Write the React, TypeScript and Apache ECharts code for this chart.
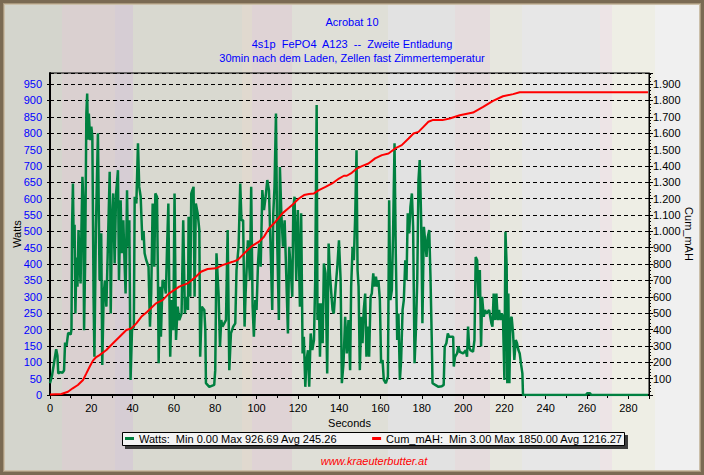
import React, { useEffect, useRef } from "react";
import * as echarts from "echarts";

const titleMain = "Acrobat 10";
const titleSub = [
  "4s1p  FePO4  A123  --  Zweite Entladung",
  "30min nach dem Laden, Zellen fast Zimmertemperatur",
];
const footerText = "www.kraeuterbutter.at";
const seriesNames = ["Watts", "Cum_mAH"];
const axisNames = ["Seconds", "Watts", "Cum_mAH"];
const wattsStats = [0.0, 926.69, 245.26];
const mahStats = [3.0, 1850.0, 1216.27];
const xRange = [0, 290, 20];
const wattsRange = [0, 984, 50];
const mahRange = [0, 1968, 100];

// [seconds, watts]
const watts: [number, number][] = [
  [0, 36], [1, 60], [2, 100], [3, 140], [3.6, 120], [4, 66], [5, 70], [6, 68], [6.8, 75], [7.3, 160],
  [8, 150], [8.8, 190], [10, 185], [10.4, 200], [10.7, 525], [11.1, 646], [11.5, 453], [11.9, 520],
  [12.3, 249], [12.8, 420], [13.3, 331], [13.8, 504], [14.3, 412], [14.8, 341], [15.2, 500], [15.7, 667],
  [16.1, 600], [16.5, 198], [17, 400], [17.6, 860], [18, 921], [18.4, 780], [18.8, 860], [19.2, 809],
  [19.6, 779], [20, 820], [20.5, 790], [21.1, 300], [21.5, 117], [22.2, 500], [23.2, 800], [24, 351],
  [24.8, 494], [25.3, 92], [26, 310], [26.6, 350], [27.3, 270], [28.2, 500], [28.9, 682], [29.4, 249],
  [30, 534], [30.6, 616], [31.3, 402], [32, 616], [32.9, 687], [33.4, 351], [34.2, 595], [34.8, 433],
  [35.5, 534], [36.1, 402], [36.6, 310], [37.3, 626], [37.7, 453], [38.4, 534], [39, 46], [39.7, 198],
  [40.6, 209], [41, 606], [41.8, 585], [42.6, 769], [43.2, 636], [43.9, 606], [44.7, 473], [45.3, 500],
  [45.8, 433], [46.6, 412], [47.7, 392], [48.4, 209], [49, 310], [49.7, 585], [50.5, 392], [51, 616],
  [51.8, 606], [52.3, 331], [52.6, 97], [53.2, 331], [53.7, 178], [54.5, 351], [55.3, 341], [56.1, 310],
  [56.6, 433], [57.3, 585], [57.7, 351], [58.2, 117], [58.9, 290], [59.7, 198], [60.3, 616], [61, 168],
  [61.8, 270], [62.6, 229], [63.7, 249], [64.5, 534], [65.3, 249], [66, 300], [66.8, 260], [67.1, 545],
  [67.9, 300], [68.4, 616], [69.5, 636], [70, 300], [70.6, 585], [71.5, 555], [72.3, 504], [72.7, 117],
  [73.5, 270], [74.7, 260], [75.2, 198], [75.5, 36], [77.1, 25], [79.5, 31], [80, 76], [80.6, 433],
  [81.6, 310], [82.3, 148], [82.9, 229], [83.5, 209], [85.2, 229], [86, 504], [86.8, 76], [87.6, 188],
  [88.7, 209], [89.7, 219], [90.3, 382], [91.3, 453], [92.1, 646], [92.7, 534], [93.5, 534], [94.2, 209],
  [94.7, 310], [95.8, 473], [96.8, 351], [97.4, 636], [98.1, 270], [98.7, 178], [99.4, 290], [100, 260],
  [100.7, 402], [101.3, 463], [102, 392], [102.8, 626], [103.6, 565], [104.4, 606], [105.2, 657],
  [106, 626], [106.8, 453], [107.6, 260], [108.1, 555], [108.7, 636], [109.4, 860], [110, 473],
  [110.8, 229], [111.3, 697], [112, 555], [112.8, 453], [113.6, 534], [114.5, 341], [115.2, 188],
  [115.8, 453], [116.5, 392], [117.3, 300], [117.8, 575], [118.4, 606], [119.2, 351], [120, 565],
  [121, 270], [121.6, 555], [122.3, 127], [122.9, 178], [123.6, 25], [124.2, 107], [124.9, 137],
  [125.5, 25], [126.2, 188], [127, 137], [127.8, 168], [128.4, 351], [129.1, 886], [129.5, 229],
  [130.2, 280], [130.7, 117], [131.3, 280], [132, 158], [132.6, 402], [133.4, 372], [134.2, 66],
  [134.9, 463], [135.5, 372], [136.2, 310], [136.8, 260], [137.4, 249], [138.3, 331], [139.1, 392],
  [139.9, 473], [140.7, 351], [141.3, 36], [142.1, 97], [142.9, 239], [143.7, 127], [144.5, 229],
  [145.3, 76], [145.8, 331], [146.5, 453], [147.1, 412], [147.8, 555], [148.4, 748], [148.9, 382],
  [149.4, 331], [150, 76], [150.7, 239], [151.3, 158], [151.9, 260], [152.6, 310], [153.2, 117],
  [153.9, 209], [154.5, 117], [155.2, 300], [155.8, 310], [156.5, 372], [157.1, 331], [157.8, 362],
  [158.4, 331], [159, 351], [159.7, 290], [160.3, 97], [161, 107], [161.6, 46], [162.6, 36], [163.6, 56],
  [164.2, 595], [164.8, 290], [165.5, 321], [166.1, 494], [166.8, 769], [167.4, 433], [168.1, 168],
  [168.7, 249], [169.4, 46], [170, 107], [170.7, 260], [171.3, 290], [172, 412], [172.6, 351],
  [173.2, 555], [173.9, 494], [174.5, 575], [175.2, 616], [175.8, 514], [176.5, 97], [177.1, 188],
  [177.8, 351], [178.4, 657], [179, 718], [179.7, 534], [180.3, 219], [181, 514], [181.6, 473],
  [182.3, 422], [182.9, 483], [183.6, 504], [184.2, 362], [184.8, 178], [185.2, 36], [186.5, 31],
  [188.1, 25], [189.7, 27], [190.6, 31], [191.1, 148], [191.9, 158], [192.6, 188], [193.2, 178],
  [194.5, 178], [195.2, 178], [195.5, 87], [196.1, 117], [197.1, 127], [197.7, 148], [198.4, 132],
  [200, 127], [201.3, 137], [201.9, 117], [202.4, 209], [202.9, 148], [203.5, 137], [204.8, 132],
  [205.5, 168], [206.1, 422], [206.8, 412], [207.4, 300], [208.1, 382], [208.7, 148], [209.2, 300],
  [210, 239], [210.6, 260], [211.3, 249], [212.6, 260], [213.7, 219], [214.2, 209], [214.8, 310],
  [215.5, 229], [216.1, 310], [216.8, 229], [217.4, 260], [218.1, 229], [218.7, 249], [219.3, 239],
  [220, 46], [220.5, 499], [221.1, 392], [221.4, 36], [221.9, 310], [222.4, 36], [222.9, 229],
  [223.5, 239], [224.2, 188], [224.8, 107], [225.5, 168], [226.1, 158], [226.8, 137], [227.4, 127],
  [228.1, 92], [228.7, 66], [229, 0], [259.5, 0], [260, 5], [261.5, 5], [262, 0], [289.5, 0],
];

// [seconds, cumulative mAh]
const cumMah: [number, number][] = [
  [0, 3], [5.5, 6], [8.7, 20], [11, 41], [13.5, 61], [16, 92], [17.6, 132], [19.2, 173], [20.8, 210],
  [22.4, 232], [24, 244], [27.3, 275], [30.5, 316], [33.7, 356], [37, 397], [39.4, 407], [41.8, 438],
  [44.2, 478], [47.1, 509], [51.3, 560], [54.5, 580], [57.7, 621], [62.6, 662], [66.6, 682], [70.6, 723],
  [73.1, 753], [76.3, 770], [80.3, 774], [83.5, 794], [88.4, 814], [90.8, 825], [93.2, 855], [94.8, 875],
  [97.9, 912], [101.2, 937], [103.6, 967], [106, 1018], [109.2, 1059], [112.5, 1110], [115.7, 1144],
  [118.1, 1171], [120.5, 1201], [123, 1222], [125.4, 1228], [127.8, 1232], [130.2, 1252], [133.4, 1272],
  [136.6, 1293], [139.9, 1323], [142.3, 1340], [143.7, 1340], [146.1, 1358], [148.6, 1384], [151, 1399],
  [154.2, 1415], [157.4, 1446], [160.7, 1466], [163.9, 1476], [167.1, 1507], [170.3, 1527], [173.6, 1568],
  [176, 1598], [178.4, 1608], [180.8, 1639], [183.2, 1670], [185.2, 1680], [190, 1680], [193.5, 1690],
  [198.4, 1710], [204.8, 1726], [209.7, 1761], [214.5, 1798], [219.3, 1826], [224.2, 1839], [227.4, 1850],
  [289.5, 1850],
];

const FONT = "'Liberation Sans', Arial, Helvetica, sans-serif";

const fmtThousands = (v: number) => {
  if (v >= 1000) {
    const k = Math.floor(v / 1000);
    return k + "." + String(v % 1000).padStart(3, "0");
  }
  return String(v);
};

const legendLabel = (name: string) => {
  const s = name === seriesNames[0] ? wattsStats : mahStats;
  return `${name}:  Min ${s[0].toFixed(2)} Max ${s[1].toFixed(2)} Avg ${s[2].toFixed(2)}`;
};

const stripes =
  "linear-gradient(to right," +
  "#d4d5cd 0px,#d4d5cd 62px,#dad0d0 62px,#dad0d0 115px,#d6cdd4 115px,#d6cdd4 133px," +
  "#d9d9d0 133px,#d9d9d0 242px,#e0d9cf 242px,#e0d9cf 252px,#dfd3d5 252px,#dfd3d5 292px," +
  "#dfdfd7 292px,#dfdfd7 388px,#e2e2e2 388px,#e2e2e2 455px,#e5dcdd 455px,#e5dcdd 490px," +
  "#e7e7df 490px,#e7e7df 522px,#e7e7e7 522px,#e7e7e7 600px,#ede4e6 600px,#ede4e6 612px," +
  "#eeeee5 612px,#eeeee5 655px,#f0f0f0 655px,#f0f0f0 704px)";

const titleStyle = { fontSize: 11, fontWeight: "normal", color: "#0000ff", fontFamily: FONT };

export default function App() {
  const ref = useRef<HTMLDivElement>(null);

  useEffect(() => {
    document.body.style.margin = "0";
    if (!ref.current) return;
    const chart = echarts.init(ref.current, null, { renderer: "svg" });
    const option: any = {
      animation: false,
      backgroundColor: "transparent",
      textStyle: { fontFamily: FONT },
      title: [
        { text: titleMain, left: "center", top: 16, padding: 0, textStyle: titleStyle },
        { text: titleSub[0], left: "center", top: 38, padding: 0, textStyle: titleStyle },
        { text: titleSub[1], left: "center", top: 52, padding: 0, textStyle: titleStyle },
      ],
      grid: {
        left: 50,
        right: 55,
        top: 73,
        bottom: 80,
        containLabel: false,
        outerBoundsMode: "none",
        show: true,
        borderColor: "#000",
        borderWidth: 1,
        backgroundColor: "transparent",
      },
      legend: {
        data: seriesNames,
        left: 125,
        top: 433,
        padding: 0,
        itemGap: 35,
        itemWidth: 9,
        itemHeight: 3,
        icon: "rect",
        formatter: legendLabel,
        textStyle: { fontSize: 11, color: "#000", fontFamily: FONT },
      },
      xAxis: {
        type: "value",
        min: xRange[0],
        max: xRange[1],
        interval: xRange[2],
        name: axisNames[0],
        nameLocation: "middle",
        nameGap: 22,
        nameMoveOverlap: false,
        nameTextStyle: { fontSize: 11, color: "#000", fontFamily: FONT },
        axisLine: { show: true, lineStyle: { color: "#000", width: 2 } },
        axisTick: { show: true, length: 4, lineStyle: { color: "#000" } },
        minorTick: { show: true, splitNumber: 2, length: 3, lineStyle: { color: "#000" } },
        axisLabel: { color: "#000", fontSize: 11, margin: 7, showMaxLabel: false, fontFamily: FONT },
        splitLine: { show: false },
      },
      yAxis: [
        {
          type: "value",
          position: "left",
          min: wattsRange[0],
          max: wattsRange[1],
          interval: wattsRange[2],
          name: axisNames[1],
          nameLocation: "middle",
          nameRotate: 90,
          nameGap: 28,
          nameMoveOverlap: false,
          nameTextStyle: { fontSize: 11, color: "#000", fontFamily: FONT },
          axisLine: { show: true, lineStyle: { color: "#000", width: 2 } },
          axisTick: { show: true, length: 3, lineStyle: { color: "#000" } },
          axisLabel: { color: "#0000ff", fontSize: 11, margin: 8, showMaxLabel: false, fontFamily: FONT },
          splitLine: { show: true, lineStyle: { color: "#000", width: 1, type: [4, 3] } },
        },
        {
          type: "value",
          position: "right",
          min: mahRange[0],
          max: mahRange[1],
          interval: mahRange[2],
          name: axisNames[2],
          nameLocation: "middle",
          nameRotate: -90,
          nameGap: 34,
          nameMoveOverlap: false,
          nameTextStyle: { fontSize: 11, color: "#000", fontFamily: FONT },
          axisLine: { show: true, lineStyle: { color: "#000", width: 1 } },
          axisTick: { show: true, length: 4, lineStyle: { color: "#000" } },
          minorTick: { show: true, splitNumber: 5, length: 2, lineStyle: { color: "#000" } },
          axisLabel: {
            color: "#000",
            fontSize: 11,
            margin: 4,
            showMinLabel: false,
            showMaxLabel: false,
            formatter: fmtThousands,
            fontFamily: FONT,
          },
          splitLine: { show: false },
        },
      ],
      graphic: [
        {
          type: "rect",
          z: 0,
          shape: { x: 125, y: 435, width: 503, height: 14 },
          style: { fill: "#3c3c3c" },
        },
        {
          type: "rect",
          z: 0,
          shape: { x: 122.5, y: 432.5, width: 502, height: 13 },
          style: { fill: "#f3f3f3", stroke: "#000", lineWidth: 1 },
        },
        {
          type: "text",
          z: 0,
          x: 374,
          y: 461,
          style: {
            text: footerText,
            fill: "#ff0000",
            fontSize: 11,
            fontStyle: "italic",
            fontFamily: FONT,
            textAlign: "center",
            textVerticalAlign: "middle",
          },
        },
      ],
      series: [
        {
          name: seriesNames[0],
          type: "line",
          yAxisIndex: 0,
          data: watts,
          showSymbol: false,
          symbol: "none",
          lineStyle: { color: "#008040", width: 2.5 },
          itemStyle: { color: "#008040" },
          z: 2,
        },
        {
          name: seriesNames[1],
          type: "line",
          yAxisIndex: 1,
          data: cumMah,
          showSymbol: false,
          symbol: "none",
          lineStyle: { color: "#ff0000", width: 2 },
          itemStyle: { color: "#ff0000" },
          z: 3,
        },
      ],
    };
    chart.setOption(option);
    return () => chart.dispose();
  }, []);

  return (
    <div style={{ position: "relative", width: 704, height: 475, background: stripes, overflow: "hidden" }}>
      <div ref={ref} style={{ position: "absolute", left: 0, top: 0, width: 704, height: 475 }} />
      <div
        style={{
          position: "absolute",
          left: 0,
          top: 0,
          width: 704,
          height: 475,
          boxSizing: "border-box",
          border: "3px solid #7a6a53",
          boxShadow: "inset 0 0 0 1px #a8977c, inset 0 0 0 2px #cbbfa9",
          pointerEvents: "none",
        }}
      />
    </div>
  );
}
